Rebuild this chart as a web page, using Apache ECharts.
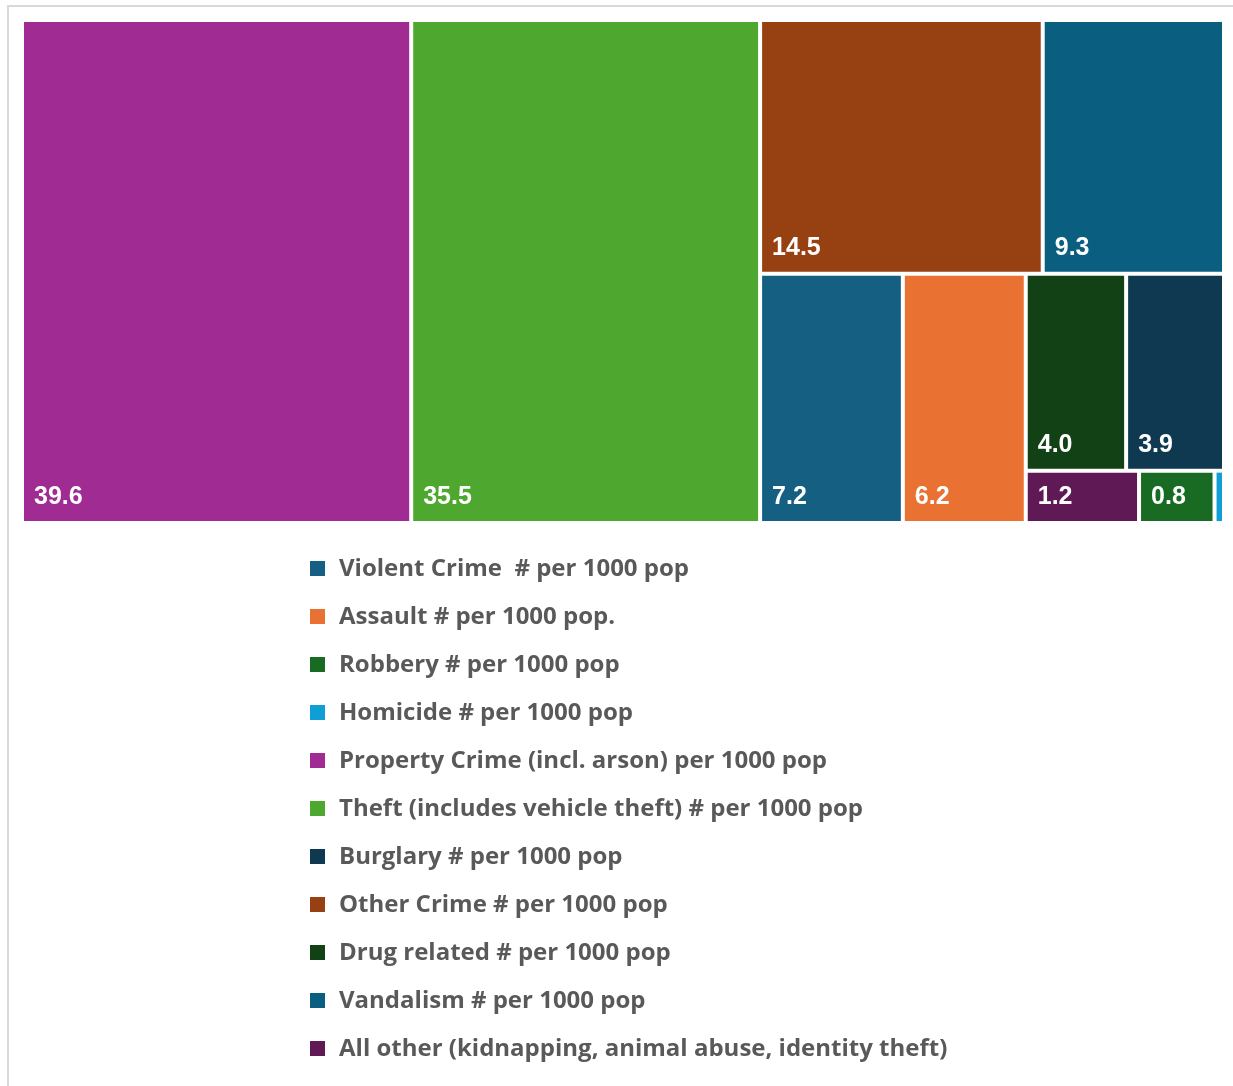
<!DOCTYPE html>
<html>
<head>
<meta charset="utf-8">
<script src="https://cdn.jsdelivr.net/npm/echarts@6/dist/echarts.min.js"></script>
<style>
html,body{margin:0;padding:0;background:#fff;}
#chart{width:1233px;height:1086px;}
</style>
</head>
<body>
<div id="chart"></div>
<script>
var categories = [
  'Violent Crime  # per 1000 pop',
  'Assault # per 1000 pop.',
  'Robbery # per 1000 pop',
  'Homicide # per 1000 pop',
  'Property Crime (incl. arson) per 1000 pop',
  'Theft (includes vehicle theft) # per 1000 pop',
  'Burglary # per 1000 pop',
  'Other Crime # per 1000 pop',
  'Drug related # per 1000 pop',
  'Vandalism # per 1000 pop',
  'All other (kidnapping, animal abuse, identity theft)'
];
var values = [7.2, 6.2, 0.8, 0.1, 39.6, 35.5, 3.9, 14.5, 4.0, 9.3, 1.2];
var colors = ['#156082', '#E97132', '#196B24', '#0F9ED5', '#A02B93', '#4EA72E',
              '#0E3950', '#974011', '#124116', '#0A5E80', '#5F1955'];

var chart = echarts.init(document.getElementById('chart'), null, {renderer: 'canvas'});

var treeData = categories.map(function (c, i) {
  return {name: c, value: values[i], itemStyle: {color: colors[i]}};
});

var legendX = 310, legendY0 = 568, legendGap = 48;
var graphics = [{
  type: 'rect', z: -1, silent: true,
  shape: {x: 8, y: 6, width: 1400, height: 1400},
  style: {fill: 'none', stroke: '#D9D9D9', lineWidth: 2}
}];
categories.forEach(function (c, i) {
  var cy = legendY0 + i * legendGap;
  graphics.push({
    type: 'rect', silent: true,
    shape: {x: legendX, y: cy - 7, width: 15, height: 15},
    style: {fill: colors[i]}
  });
  graphics.push({
    type: 'text', silent: true,
    x: legendX + 29, y: cy + 1,
    style: {
      text: c, fill: '#595959',
      font: 'bold 24px "Open Sans", sans-serif',
      textVerticalAlign: 'middle', verticalAlign: 'middle'
    }
  });
});

chart.setOption({
  animation: false,
  graphic: graphics,
  series: [{
    type: 'treemap',
    left: 24, top: 22, width: 1198, height: 499,
    squareRatio: 1.008,
    roam: false,
    nodeClick: false,
    breadcrumb: {show: false},
    itemStyle: {borderWidth: 0, gapWidth: 4, borderColor: '#fff'},
    label: {
      show: true,
      position: 'insideBottomLeft',
      distance: 0,
      padding: [0, 0, 11, 10],
      color: '#fff',
      fontFamily: '"Liberation Sans", Arial, sans-serif',
      fontWeight: 'bold',
      fontSize: 25,
      formatter: function (p) { return p.value.toFixed(1); }
    },
    upperLabel: {show: false},
    data: treeData
  }]
});
</script>
</body>
</html>
